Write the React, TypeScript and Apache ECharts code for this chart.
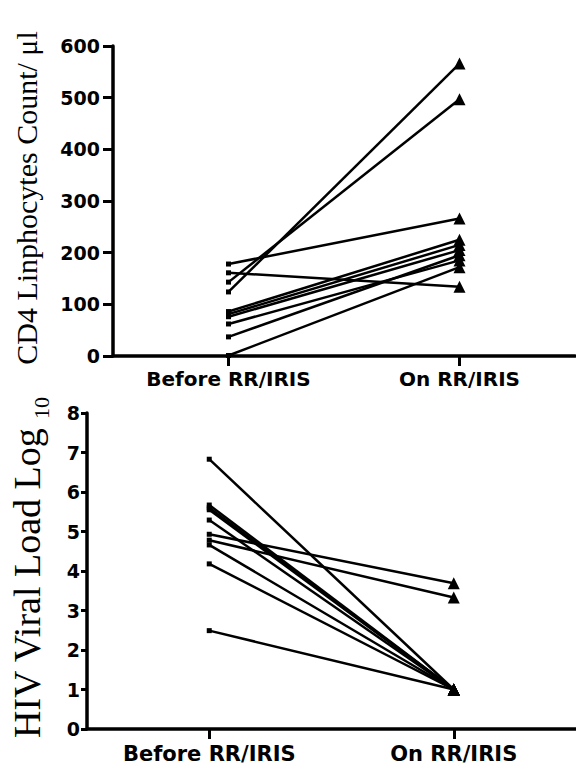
import React, { useEffect, useRef } from "react";
import * as echarts from "echarts";

const categories = ["Before RR/IRIS", "On RR/IRIS"];
const cd4Before = [178, 161, 143, 124, 86, 81, 76, 62, 37, 1];
const cd4On = [266, 134, 497, 566, 225, 215, 205, 185, 195, 172];
const vlBefore = [6.83, 5.67, 5.6, 5.55, 5.29, 4.93, 4.78, 4.66, 4.18, 2.49];
const vlOn = [1.0, 1.0, 1.0, 1.0, 1.0, 3.69, 3.33, 1.0, 1.0, 1.0];
const cd4Title = "CD4 Linphocytes Count/ μl";
const vlTitle = "HIV Viral Load Log";
const vlTitleSub = "10";

function pairSeries(before: number[], on: number[], axis: number) {
  return before.map((b, i) => ({
    type: "line",
    xAxisIndex: axis,
    yAxisIndex: axis,
    silent: true,
    lineStyle: { color: "#000", width: 2.5 },
    itemStyle: { color: "#000" },
    data: [
      { value: b, symbol: "rect", symbolSize: 5 },
      { value: on[i], symbol: "triangle", symbolSize: 12 },
    ],
  }));
}

export default function App() {
  const ref = useRef<HTMLDivElement>(null);
  useEffect(() => {
    const chart = echarts.init(ref.current!, null, { renderer: "svg" });
    const axisLine = { show: true, lineStyle: { color: "#000", width: 3.5 } };
    const yLabel = (margin: number) => ({
      color: "#000",
      fontFamily: "DejaVu Sans",
      fontWeight: "bold",
      fontSize: 19,
      margin,
    });
    const xLabel = (size: number, margin: number) => ({
      color: "#000",
      fontFamily: "DejaVu Sans",
      fontWeight: "bold",
      fontSize: size,
      margin,
    });
    chart.setOption({
      animation: false,
      backgroundColor: "#fff",
      grid: [
        { left: 113, right: 1, top: 46, height: 310 },
        { left: 87, right: -8, top: 413, height: 316 },
      ],
      xAxis: [
        {
          type: "category",
          gridIndex: 0,
          data: categories,
          boundaryGap: true,
          axisLine,
          axisTick: { show: true, alignWithLabel: true, length: 10, lineStyle: { color: "#000", width: 3 } },
          axisLabel: xLabel(20, 13),
        },
        {
          type: "category",
          gridIndex: 1,
          data: categories,
          boundaryGap: true,
          axisLine,
          axisTick: { show: true, alignWithLabel: true, length: 10, lineStyle: { color: "#000", width: 3 } },
          axisLabel: xLabel(21, 14),
        },
      ],
      yAxis: [
        {
          type: "value",
          gridIndex: 0,
          min: 0,
          max: 600,
          interval: 100,
          axisLine,
          axisTick: { show: true, length: 10, lineStyle: { color: "#000", width: 3 } },
          axisLabel: yLabel(13),
          splitLine: { show: false },
        },
        {
          type: "value",
          gridIndex: 1,
          min: 0,
          max: 8,
          interval: 1,
          axisLine,
          axisTick: { show: true, length: 6, lineStyle: { color: "#000", width: 3 } },
          axisLabel: yLabel(7),
          splitLine: { show: false },
        },
      ],
      graphic: [
        {
          type: "text",
          x: 26,
          y: 198,
          rotation: Math.PI / 2,
          style: {
            text: cd4Title,
            fontFamily: "Liberation Serif",
            fontSize: 30,
            fill: "#000",
            textAlign: "center",
            textVerticalAlign: "middle",
          },
        },
        {
          type: "text",
          x: 27,
          y: 738,
          rotation: Math.PI / 2,
          style: {
            text: vlTitle,
            fontFamily: "Liberation Serif",
            fontSize: 38,
            fill: "#000",
            textAlign: "left",
            textVerticalAlign: "middle",
          },
        },
        {
          type: "text",
          x: 41,
          y: 419,
          rotation: Math.PI / 2,
          style: {
            text: vlTitleSub,
            fontFamily: "Liberation Serif",
            fontSize: 22,
            fill: "#000",
            textAlign: "left",
            textVerticalAlign: "middle",
          },
        },
      ],
      series: [...pairSeries(cd4Before, cd4On, 0), ...pairSeries(vlBefore, vlOn, 1)],
    });
    return () => chart.dispose();
  }, []);
  return (
    <div
      ref={ref}
      style={{ position: "fixed", left: 0, top: 0, width: 576, height: 767 }}
    />
  );
}
